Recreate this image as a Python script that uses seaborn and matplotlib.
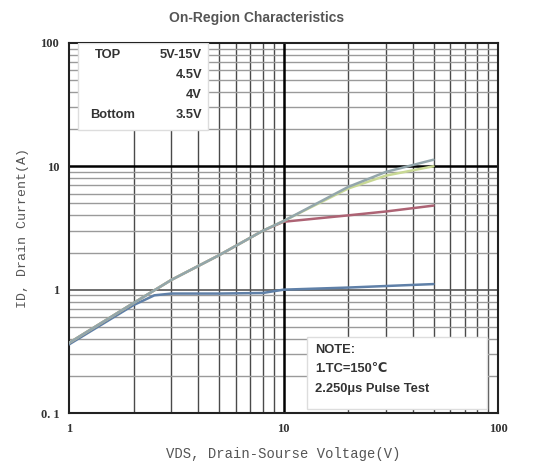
import pandas as pd
import seaborn as sns
import matplotlib.pyplot as plt
from matplotlib.ticker import FixedLocator, FixedFormatter, LogLocator, NullFormatter
from matplotlib.patches import Rectangle

# Curve data (VDS in V, ID in A)
vds_top = [1, 2, 3, 5, 8, 10, 20, 30, 50]
id_top = [0.37, 0.78, 1.2, 1.9, 3.0, 3.6, 6.8, 9.0, 11.3]
vds_45 = [1, 2, 3, 5, 8, 10, 20, 30, 50]
id_45 = [0.37, 0.78, 1.2, 1.9, 3.0, 3.6, 6.6, 8.4, 10.0]
vds_4 = [1, 2, 3, 5, 8, 10, 20, 30, 50]
id_4 = [0.37, 0.78, 1.2, 1.9, 3.0, 3.55, 4.0, 4.3, 4.8]
vds_35 = [1, 2, 2.5, 3, 5, 8, 10, 20, 50]
id_35 = [0.36, 0.75, 0.9, 0.93, 0.93, 0.94, 1.0, 1.04, 1.11]

series_names = ["3.5V", "4V", "4.5V", "5V-15V"]
colors = {"3.5V": "#5f80a8", "4V": "#ad6374", "4.5V": "#c8d894", "5V-15V": "#93a6ab"}

x_ticks = [1, 10, 100]
x_labels = ["1", "10", "100"]
y_ticks = [0.1, 1, 10, 100]
y_labels = ["0. 1", "1", "10", "100"]

frames = []
for name, xs, ys in [("3.5V", vds_35, id_35), ("4V", vds_4, id_4),
                     ("4.5V", vds_45, id_45), ("5V-15V", vds_top, id_top)]:
    frames.append(pd.DataFrame({"VDS": xs, "ID": ys, "VGS": name}))
df = pd.concat(frames, ignore_index=True)

sns.set_style("white")
plt.rcParams['font.family'] = ['Liberation Mono', 'DejaVu Sans']

fig = plt.figure(figsize=(5.35, 4.71), dpi=100)
ax = fig.add_axes([0.129, 0.123, 0.802, 0.786])

ax.set_xscale("log")
ax.set_yscale("log")
ax.set_xlim(1, 100)
ax.set_ylim(0.1, 100)

# grid
ax.xaxis.set_minor_locator(LogLocator(base=10, subs=range(2, 10)))
ax.yaxis.set_minor_locator(LogLocator(base=10, subs=range(2, 10)))
ax.xaxis.set_minor_formatter(NullFormatter())
ax.yaxis.set_minor_formatter(NullFormatter())
ax.grid(which="minor", axis="x", color="#4a4a4a", lw=1.0)
ax.grid(which="minor", axis="y", color="#9a9a9a", lw=1.0)
ax.axvline(10, color="black", lw=1.8, zorder=1)
ax.axhline(10, color="black", lw=1.8, zorder=1)
ax.axhline(1, color="#555555", lw=1.2, zorder=1)
ax.set_axisbelow(True)

sns.lineplot(data=df, x="VDS", y="ID", hue="VGS", hue_order=series_names,
             palette=colors, lw=1.8, legend=False, ax=ax, zorder=3)

ax.xaxis.set_major_locator(FixedLocator(x_ticks))
ax.xaxis.set_major_formatter(FixedFormatter(x_labels))
ax.yaxis.set_major_locator(FixedLocator(y_ticks))
ax.yaxis.set_major_formatter(FixedFormatter(y_labels))
ax.tick_params(which="both", length=0, labelsize=9, labelcolor="#333333", pad=7)
for lab in ax.get_xticklabels() + ax.get_yticklabels():
    lab.set_fontweight("bold")
    lab.set_family(["Liberation Serif", "DejaVu Serif"])

for s in ax.spines.values():
    s.set_color("#222222")
    s.set_linewidth(1.5)

ax.set_xlabel("VDS, Drain-Sourse Voltage(V)", fontsize=10, color="#555555", labelpad=9)
ax.set_ylabel("ID, Drain Current(A)", fontsize=9.5, color="#555555", labelpad=8)

# legend-like box top left
ax.add_patch(Rectangle((0.021, 0.765), 0.303, 0.235, transform=ax.transAxes,
                       facecolor="white", edgecolor="#dddddd", lw=1, zorder=4))
lt = dict(transform=ax.transAxes, fontsize=9.3, fontweight="bold", color="#333333",
          family=["Liberation Sans", "DejaVu Sans"], zorder=5, va="center")
ax.text(0.090, 0.968, "TOP", ha="center", **lt)
ax.text(0.310, 0.968, "5V-15V", ha="right", **lt)
ax.text(0.310, 0.914, "4.5V", ha="right", **lt)
ax.text(0.310, 0.860, "4V", ha="right", **lt)
ax.text(0.050, 0.806, "Bottom", ha="left", **lt)
ax.text(0.310, 0.806, "3.5V", ha="right", **lt)

# note box bottom right
ax.add_patch(Rectangle((0.555, 0.011), 0.419, 0.194, transform=ax.transAxes,
                       facecolor="white", edgecolor="#dddddd", lw=1, zorder=4))
ax.text(0.573, 0.170, "NOTE:", ha="left", **lt)
ax.text(0.573, 0.118, "1.TC=150\u2103", ha="left", **lt)
ax.text(0.573, 0.064, "2.250\u03bcs Pulse Test", ha="left", **lt)

fig.text(0.480, 0.962, "On-Region Characteristics", ha="center", va="center",
         fontsize=10, fontweight="bold", color="#555555",
         family=["Liberation Sans", "DejaVu Sans"])

fig.savefig("out.png", dpi=100)
